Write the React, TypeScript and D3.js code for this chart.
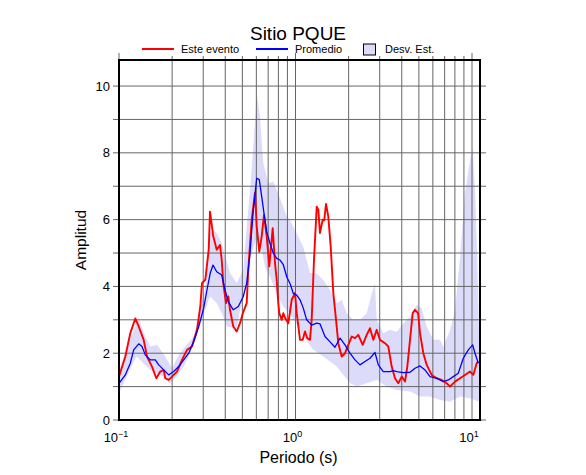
import React from "react";
import * as d3 from "d3";

// period (s) / amplitude
const RED_T = [0.1, 0.1086, 0.1159, 0.1237, 0.1293, 0.138, 0.1441, 0.1538, 0.1627, 0.1714, 0.1792, 0.1829, 0.1912, 0.1997, 0.2131, 0.2275, 0.2428, 0.2592, 0.2767, 0.2888, 0.2953, 0.3083, 0.3223, 0.3278, 0.342, 0.3577, 0.3734, 0.3818, 0.3898, 0.4038, 0.4161, 0.4254, 0.4441, 0.4643, 0.4848, 0.5061, 0.5291, 0.5403, 0.5648, 0.5896, 0.6029, 0.6236, 0.6434, 0.663, 0.6868, 0.7105, 0.7427, 0.7654, 0.7825, 0.799, 0.8095, 0.8353, 0.8529, 0.872, 0.9104, 0.9517, 0.9936, 1.016, 1.061, 1.098, 1.132, 1.166, 1.208, 1.235, 1.273, 1.319, 1.347, 1.376, 1.426, 1.455, 1.489, 1.534, 1.583, 1.638, 1.697, 1.748, 1.827, 1.908, 1.992, 2.082, 2.173, 2.269, 2.403, 2.532, 2.643, 2.759, 2.885, 3.011, 3.214, 3.356, 3.508, 3.662, 3.823, 3.997, 4.173, 4.3, 4.454, 4.613, 4.754, 4.95, 5.075, 5.298, 5.538, 5.911, 6.31, 6.735, 7.189, 7.505, 8.01, 8.55, 9.127, 9.743, 10.17, 10.63, 10.86];
const RED_A = [1.3, 1.9, 2.6, 3.04, 2.8, 2.4, 1.9, 1.6, 1.25, 1.45, 1.5, 1.25, 1.2, 1.3, 1.45, 1.8, 2.1, 2.2, 2.7, 3.4, 4.1, 4.2, 5.1, 6.24, 5.5, 5.1, 5.24, 4.8, 4.1, 3.5, 3.7, 3.3, 2.8, 2.65, 2.9, 3.24, 3.5, 4.5, 6.0, 6.8, 5.8, 5.04, 5.5, 6.14, 5.5, 4.6, 5.74, 4.7, 4.2, 3.5, 3.2, 3.0, 3.2, 3.06, 2.9, 3.6, 3.8, 3.2, 2.4, 2.4, 2.65, 2.45, 2.4, 3.0, 4.8, 6.39, 6.3, 5.6, 6.0, 5.98, 6.47, 6.09, 5.19, 3.8, 3.0, 2.3, 1.9, 2.0, 2.25, 2.5, 2.45, 2.55, 2.25, 2.55, 2.75, 2.4, 2.7, 2.4, 2.3, 2.2, 1.6, 1.25, 1.1, 1.3, 1.15, 1.6, 2.4, 3.2, 3.3, 3.2, 2.6, 2.0, 1.65, 1.35, 1.25, 1.2, 1.1, 1.0, 1.15, 1.25, 1.35, 1.45, 1.35, 1.7, 1.75];

const BLUE_T = [0.1, 0.1086, 0.1159, 0.1211, 0.1293, 0.135, 0.1409, 0.1504, 0.1606, 0.1679, 0.1792, 0.1912, 0.2041, 0.2179, 0.2326, 0.2483, 0.265, 0.2829, 0.3019, 0.3152, 0.3289, 0.3409, 0.3577, 0.3818, 0.3986, 0.4161, 0.4441, 0.4741, 0.5061, 0.5291, 0.5524, 0.5767, 0.6029, 0.6236, 0.6434, 0.663, 0.6868, 0.717, 0.7485, 0.7825, 0.8169, 0.8529, 0.8916, 0.9307, 0.9717, 1.016, 1.061, 1.107, 1.157, 1.235, 1.319, 1.376, 1.469, 1.569, 1.674, 1.787, 1.908, 2.036, 2.173, 2.32, 2.476, 2.643, 2.821, 2.945, 3.144, 3.431, 3.582, 3.745, 4.081, 4.454, 4.754, 5.075, 5.417, 5.781, 6.31, 6.877, 7.34, 7.835, 8.362, 8.927, 9.528, 10.09, 10.4, 10.86];
const BLUE_A = [1.1, 1.35, 1.7, 2.1, 2.28, 2.2, 1.95, 1.8, 1.8, 1.65, 1.5, 1.35, 1.45, 1.6, 1.8, 2.0, 2.35, 2.8, 3.35, 3.9, 4.4, 4.64, 4.44, 4.34, 3.9, 3.54, 3.3, 3.4, 3.7, 4.1, 5.0, 6.29, 7.24, 7.2, 6.69, 6.19, 5.64, 5.29, 5.0, 4.84, 4.79, 4.65, 4.29, 4.09, 3.79, 3.74, 3.6, 3.35, 3.0, 2.84, 2.9, 2.88, 2.5, 2.34, 2.18, 2.45, 2.25, 2.0, 1.8, 1.65, 1.75, 1.85, 2.02, 1.65, 1.45, 1.45, 1.48, 1.45, 1.42, 1.43, 1.55, 1.62, 1.5, 1.3, 1.25, 1.15, 1.2, 1.3, 1.4, 1.85, 2.1, 2.25, 2.0, 1.7];

const UP_T = [0.1, 0.1185, 0.1293, 0.1409, 0.1504, 0.1642, 0.1829, 0.1997, 0.2179, 0.2375, 0.265, 0.2829, 0.3083, 0.3278, 0.342, 0.3577, 0.3818, 0.4254, 0.4643, 0.5061, 0.5291, 0.5524, 0.5767, 0.6029, 0.6293, 0.657, 0.7013, 0.7485, 0.8169, 0.8916, 0.9307, 1.016, 1.107, 1.208, 1.319, 1.437, 1.569, 1.712, 1.827, 1.95, 2.126, 2.32, 2.532, 2.702, 2.821, 2.885, 3.144, 3.431, 3.745, 4.081, 4.454, 4.861, 5.188, 5.538, 6.036, 6.588, 6.877, 7.505, 8.01, 8.55, 9.127, 9.743, 10.09, 10.4, 10.72, 11.0];
const UP_A = [1.5, 2.55, 3.05, 2.5, 2.2, 2.25, 1.9, 1.55, 1.95, 2.2, 2.5, 3.1, 4.0, 5.6, 5.7, 5.6, 5.3, 4.4, 4.1, 4.5, 5.79, 6.89, 8.18, 9.78, 9.08, 7.69, 7.09, 7.14, 6.65, 6.09, 5.99, 5.59, 5.19, 4.4, 4.39, 4.19, 3.89, 3.49, 3.6, 3.2, 3.0, 3.0, 3.2, 3.79, 4.09, 3.0, 2.6, 2.7, 2.64, 2.89, 3.09, 3.44, 3.34, 2.79, 2.4, 2.4, 2.19, 2.69, 3.29, 4.89, 6.79, 7.78, 8.13, 6.89, 4.79, 2.19];

const LO_T = [0.1, 0.1185, 0.126, 0.1373, 0.1504, 0.1627, 0.178, 0.1945, 0.2123, 0.2326, 0.2525, 0.2757, 0.3019, 0.3278, 0.3577, 0.3898, 0.4075, 0.4643, 0.4848, 0.5291, 0.5648, 0.6029, 0.6293, 0.6718, 0.717, 0.7825, 0.8529, 0.9307, 1.016, 1.107, 1.261, 1.437, 1.712, 2.036, 2.222, 2.532, 2.885, 3.286, 3.745, 4.454, 5.075, 5.781, 6.588, 7.505, 8.55, 9.743, 11.0];
const LO_A = [0.8, 1.65, 1.9, 1.7, 1.5, 1.4, 1.3, 1.1, 1.3, 1.6, 2.0, 2.5, 3.2, 3.7, 3.5, 3.1, 2.8, 2.75, 3.29, 3.99, 4.99, 5.49, 5.39, 4.59, 4.3, 3.79, 3.39, 3.19, 2.85, 2.5, 2.1, 1.9, 1.6, 1.1, 1.0, 1.1, 1.2, 1.0, 0.9, 0.85, 0.7, 0.7, 0.6, 0.55, 0.7, 0.65, 0.55];

const X_LABELS = [{ v: 0.1, e: "\u22121" }, { v: 1, e: "0" }, { v: 10, e: "1" }];
const Y_LABELS = [0, 2, 4, 6, 8, 10];

const W = 586, H = 475;
const FONT = "'Liberation Sans', Arial, Helvetica, sans-serif";

export default function App() {
  const left = 119, right = 480, top = 60, bottom = 420;
  const x = d3.scaleLog().domain([0.1, 11.1]).range([left, right]);
  const y = d3.scaleLinear().domain([0, 10.78]).range([bottom, top]);

  const line = d3.line<[number, number]>().x(d => x(d[0])).y(d => y(d[1]));
  const red = RED_T.map((t, i) => [t, RED_A[i]] as [number, number]);
  const blue = BLUE_T.map((t, i) => [t, BLUE_A[i]] as [number, number]);
  const band = [
    ...UP_T.map((t, i) => [t, UP_A[i]] as [number, number]),
    ...LO_T.map((t, i) => [t, LO_A[i]] as [number, number]).reverse(),
  ];

  const xTicks = x.ticks();
  const yTicks = d3.range(0, 11);
  const grid = "#666";

  return (
    <div style={{ position: "absolute", left: 0, top: 0 }}>
      <svg width={W} height={H} style={{ display: "block", background: "#fff" }} fontFamily={FONT}>
        <defs>
          <clipPath id="plot">
            <rect x={left} y={top} width={right - left} height={bottom - top} />
          </clipPath>
        </defs>

        <path d={line(band) + "Z"} fill="#dcdcfa" clipPath="url(#plot)" />

        {/* grid */}
        {xTicks.map(t => (
          <line key={"gx" + t} x1={x(t)} x2={x(t)} y1={bottom} y2={top - (t === 0.1 || t === 1 || t === 10 ? 7 : 4)}
            stroke={grid} strokeWidth={1} />
        ))}
        {yTicks.map(t => (
          <line key={"gy" + t} x1={left - 6} x2={right + 6} y1={y(t)} y2={y(t)} stroke={grid} strokeWidth={1} />
        ))}

        <g clipPath="url(#plot)" fill="none">
          <path d={line(red) ?? ""} stroke="#ff0000" strokeWidth={1.9} strokeLinejoin="round" />
          <path d={line(blue) ?? ""} stroke="#0000ff" strokeWidth={1.3} strokeLinejoin="round" />
        </g>

        <rect x={left} y={top} width={right - left} height={bottom - top} fill="none" stroke="#000" strokeWidth={2} />

        {/* y labels */}
        {Y_LABELS.map(v => (
          <text key={"yl" + v} x={left - 9} y={y(v) + 4.5} textAnchor="end" fontSize={13}>{v}</text>
        ))}
        <text transform={`translate(86,${(top + bottom) / 2}) rotate(-90)`} textAnchor="middle" fontSize={15.5}>Amplitud</text>

        {/* x labels */}
        {X_LABELS.map(d => (
          <text key={"xl" + d.v} x={x(d.v) - 3} y={442} textAnchor="middle" fontSize={13}>
            10<tspan dy={-5} fontSize={9}>{d.e}</tspan>
          </text>
        ))}
        <text x={(left + right) / 2 - 1} y={463} textAnchor="middle" fontSize={16}>Periodo (s)</text>

        {/* title & legend */}
        <text x={298} y={40} textAnchor="middle" fontSize={19}>Sitio PQUE</text>
        <line x1={142} x2={174} y1={49} y2={49} stroke="#ff0000" strokeWidth={2} />
        <text x={181} y={53} fontSize={11}>Este evento</text>
        <line x1={256} x2={288} y1={49} y2={49} stroke="#0000ff" strokeWidth={2} />
        <text x={295} y={53} fontSize={11}>Promedio</text>
        <rect x={363.5} y={44} width={12} height={11} fill="#dcdcfa" stroke="#000" strokeWidth={1} />
        <text x={385} y={53} fontSize={11}>Desv. Est.</text>
      </svg>
    </div>
  );
}
